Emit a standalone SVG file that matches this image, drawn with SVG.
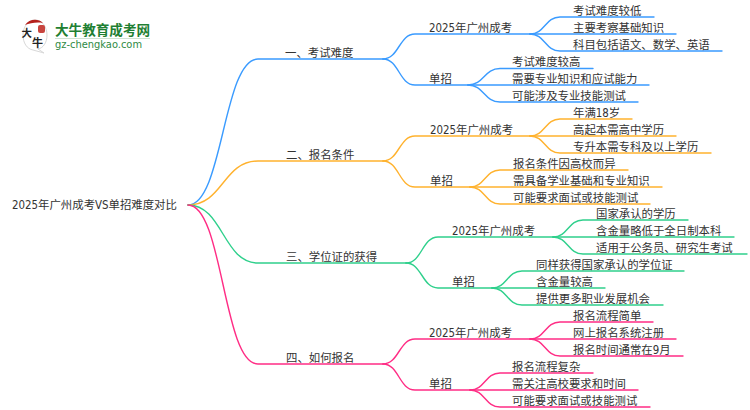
<svg xmlns="http://www.w3.org/2000/svg" width="750" height="410" viewBox="0 0 750 410">
<style>
text{font-family:"DejaVu Sans Condensed","DejaVu Sans","Noto Sans CJK SC",sans-serif;font-size:11.4px;fill:#333}
#connectors path{fill:none;stroke-width:1.4;stroke-linecap:round}
.b{stroke:#3a9bff}.o{stroke:#ffb22e}.g{stroke:#2fd08c}.p{stroke:#ff2d85}
</style>
<rect width="750" height="410" fill="#fff"/>
<g id="logo">
<path d="M23 35C23 27 28 20 35 20C42 20 47 27 47 35C47 43 43 48 38 49L44 53L33 50C27 49 23 43 23 35Z" fill="#fff" stroke="#d8d8d8" stroke-width="1"/>
<path d="M25 25C29 19 38 18 43 23C37 22 30 23 25 25Z" fill="#b5211c"/>
<rect x="38" y="25" width="7" height="8" rx="2" fill="#c8453f"/>
<text x="21.500" y="37" style="font-family:'Noto Sans CJK SC',sans-serif;font-size:10.500px;font-weight:700;fill:#222">大</text>
<text x="32" y="47" style="font-family:'Noto Sans CJK SC',sans-serif;font-size:11px;font-weight:700;fill:#222">牛</text>
<text x="55" y="35" style="font-family:'Noto Sans CJK SC',sans-serif;font-size:13.6px;font-weight:700;fill:#1f7f33">大牛教育成考网</text>
<rect x="55" y="38" width="95" height="1" fill="#cfe3d2"/>
<text x="55" y="48" style="font-family:'DejaVu Sans',sans-serif;font-size:9.9px;fill:#2f8a45">gz-chengkao.com</text>
</g>
<g id="connectors">
<g class="b">
<path class="b" d="M188 205C223 205 223 59 258 59H383"/>
<path class="b" d="M383 59C399 59 399 34 415 34H530"/>
<path class="b" d="M383 59C399 59 399 85 415 85H468"/>
<path class="b" d="M530 34C545 34 545 17 560 17H654"/>
<path class="b" d="M530 34H676"/>
<path class="b" d="M530 34C545 34 545 51 560 51H722"/>
<path class="b" d="M468 85C484 85 484 68.500 500 68.500H593"/>
<path class="b" d="M468 85H649"/>
<path class="b" d="M468 85C484 85 484 102 500 102H638"/>
</g>
<g class="o">
<path class="o" d="M188 205C223 205 223 161 258 161H383"/>
<path class="o" d="M383 161C399 161 399 136 415 136H530"/>
<path class="o" d="M383 161C399 161 399 187 415 187H470"/>
<path class="o" d="M530 136C545 136 545 119 560 119H632"/>
<path class="o" d="M530 136H676"/>
<path class="o" d="M530 136C545 136 545 153 560 153H711"/>
<path class="o" d="M470 187C485 187 485 170 500 170H628"/>
<path class="o" d="M470 187H662"/>
<path class="o" d="M470 187C485 187 485 204 500 204H650"/>
</g>
<g class="g">
<path class="g" d="M188 205C223 205 223 263 258 263H406"/>
<path class="g" d="M406 263C422 263 422 237 438 237H553"/>
<path class="g" d="M406 263C422 263 422 288 438 288H492"/>
<path class="g" d="M553 237C568 237 568 220 583 220H688"/>
<path class="g" d="M553 237H734"/>
<path class="g" d="M553 237C568 237 568 254 583 254H747"/>
<path class="g" d="M492 288C507 288 507 271 522 271H684"/>
<path class="g" d="M492 288H605"/>
<path class="g" d="M492 288C507 288 507 305 522 305H663"/>
</g>
<g class="p">
<path class="p" d="M188 205C223 205 223 364 258 364H383"/>
<path class="p" d="M383 364C399 364 399 339 415 339H530"/>
<path class="p" d="M383 364C399 364 399 390 415 390H470"/>
<path class="p" d="M530 339C545 339 545 322 560 322H653"/>
<path class="p" d="M530 339H676"/>
<path class="p" d="M530 339C545 339 545 356 560 356H683"/>
<path class="p" d="M470 390C485 390 485 373 500 373H593"/>
<path class="p" d="M470 390H638"/>
<path class="p" d="M470 390C485 390 485 407 500 407H650"/>
</g>
</g>
<g id="root"><text x="12" y="209">2025年广州成考VS单招难度对比</text></g>
<g id="n1"><text x="285" y="57">一、考试难度</text></g>
<g id="n1a"><text x="429" y="32">2025年广州成考</text></g>
<g id="n1a1"><text x="573" y="15">考试难度较低</text></g>
<g id="n1a2"><text x="573" y="32">主要考察基础知识</text></g>
<g id="n1a3"><text x="573" y="49">科目包括语文、数学、英语</text></g>
<g id="n1b"><text x="429" y="83">单招</text></g>
<g id="n1b1"><text x="512" y="66">考试难度较高</text></g>
<g id="n1b2"><text x="512" y="83">需要专业知识和应试能力</text></g>
<g id="n1b3"><text x="512" y="100">可能涉及专业技能测试</text></g>
<g id="n2"><text x="286" y="159">二、报名条件</text></g>
<g id="n2a"><text x="430" y="134">2025年广州成考</text></g>
<g id="n2a1"><text x="573" y="117">年满18岁</text></g>
<g id="n2a2"><text x="573" y="134">高起本需高中学历</text></g>
<g id="n2a3"><text x="573" y="151">专升本需专科及以上学历</text></g>
<g id="n2b"><text x="430" y="185">单招</text></g>
<g id="n2b1"><text x="513" y="168">报名条件因高校而异</text></g>
<g id="n2b2"><text x="513" y="185">需具备学业基础和专业知识</text></g>
<g id="n2b3"><text x="513" y="202">可能要求面试或技能测试</text></g>
<g id="n3"><text x="286" y="261">三、学位证的获得</text></g>
<g id="n3a"><text x="452" y="235">2025年广州成考</text></g>
<g id="n3a1"><text x="596" y="218">国家承认的学历</text></g>
<g id="n3a2"><text x="596" y="235">含金量略低于全日制本科</text></g>
<g id="n3a3"><text x="596" y="252">适用于公务员、研究生考试</text></g>
<g id="n3b"><text x="452" y="286">单招</text></g>
<g id="n3b1"><text x="536" y="269">同样获得国家承认的学位证</text></g>
<g id="n3b2"><text x="536" y="286">含金量较高</text></g>
<g id="n3b3"><text x="536" y="303">提供更多职业发展机会</text></g>
<g id="n4"><text x="286" y="362">四、如何报名</text></g>
<g id="n4a"><text x="429" y="337">2025年广州成考</text></g>
<g id="n4a1"><text x="573" y="320">报名流程简单</text></g>
<g id="n4a2"><text x="573" y="337">网上报名系统注册</text></g>
<g id="n4a3"><text x="573" y="354">报名时间通常在9月</text></g>
<g id="n4b"><text x="429" y="388">单招</text></g>
<g id="n4b1"><text x="512" y="371">报名流程复杂</text></g>
<g id="n4b2"><text x="512" y="388">需关注高校要求和时间</text></g>
<g id="n4b3"><text x="512" y="405">可能要求面试或技能测试</text></g>
</svg>
